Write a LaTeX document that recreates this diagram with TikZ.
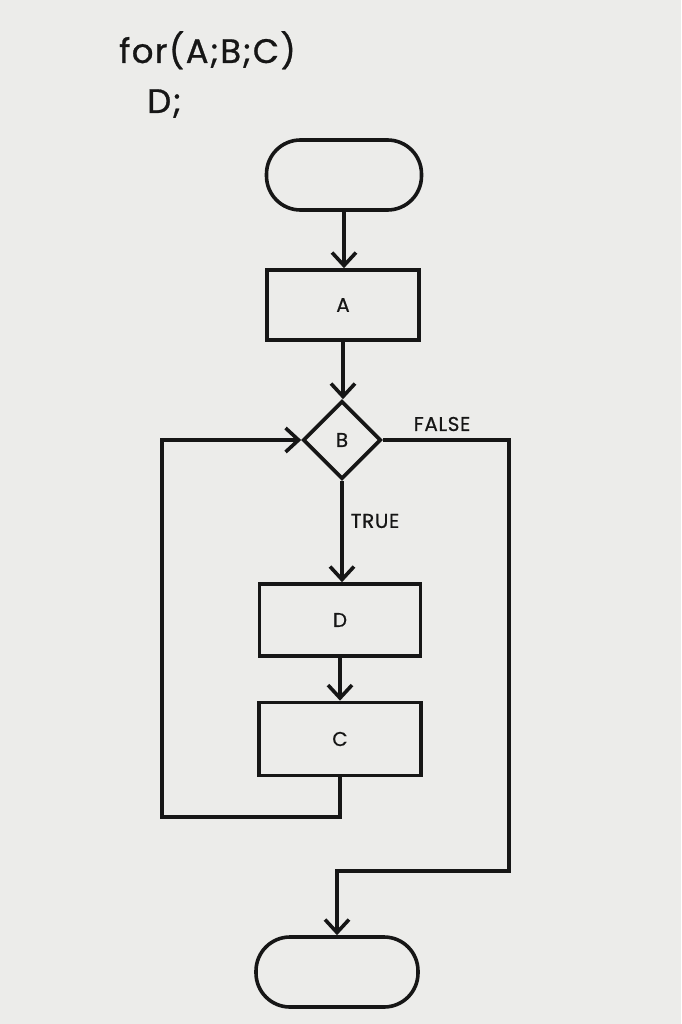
\documentclass[tikz,border=0pt]{standalone}
\usepackage{fontspec}
\setmainfont{Poppins}
\newfontfamily\titlefont[LetterSpace=4,FakeBold=0.8]{Poppins}
\newfontfamily\lblfont[LetterSpace=3,FakeBold=0.5]{Poppins}
\usetikzlibrary{arrows.meta,shapes.geometric}
\definecolor{paper}{RGB}{236,236,234}
\definecolor{ink}{RGB}{22,22,22}
\begin{document}
\begin{tikzpicture}[x=1pt,y=-1pt,
  term/.style={draw=ink, line width=3.6pt, rounded corners=34pt, minimum width=155pt, minimum height=70pt, inner sep=0pt},
  proc/.style={draw=ink, line width=3.6pt, minimum width=152pt, minimum height=70pt, inner sep=0pt, font=\lblfont\fontsize{20}{22}\selectfont, text=ink},
  dec/.style={draw=ink, line width=3.6pt, diamond, aspect=1, minimum size=78pt, inner sep=0pt, font=\lblfont\fontsize{20}{22}\selectfont, text=ink},
  lbl/.style={font=\lblfont\fontsize{20}{22}\selectfont, text=ink, inner sep=0pt},
  title/.style={font=\titlefont\fontsize{34}{38}\selectfont, text=ink, inner sep=0pt, anchor=base west},
  flow/.style={draw=ink, line width=3.6pt, line join=miter, -{Straight Barb[length=13pt,width=24pt]}}
]
\fill[paper] (0,0) rectangle (681,1024);
\useasboundingbox (0,0) rectangle (681,1024);

\node[title] (t1) at (119,63) {for(A;B;C)};
\node[title] (t2) at (147,113) {D;};

\node[term] (start) at (344,175) {};
\node[proc] (A) at (343,305) {A};
\node[dec] (B) at (342,440) {B};
\node[proc, minimum width=161pt, minimum height=72pt] (D) at (340,620) {D};
\node[proc, minimum width=162pt, minimum height=73pt] (C) at (340,739) {C};
\node[term, minimum width=162pt] (end) at (337,972) {};

\node[lbl] (false) at (442,424) {FALSE};
\node[lbl] (true) at (375,521) {TRUE};

\coordinate (f1) at (509,440);
\coordinate (f2) at (509,871);
\coordinate (l1) at (162,817);

\draw[flow] (start.south) -- (start.south |- A.north);
\draw[flow] (A.south) -- (A.south |- B.north);
\draw[flow] (B.south) -- (B.south |- D.north);
\draw[flow] (D.south) -- (D.south |- C.north);
\draw[flow] (B.east) -- (f1) -- (f2) -| (end.north);
\draw[flow] (C.south) |- (l1) |- (B.west);
\end{tikzpicture}
\end{document}
